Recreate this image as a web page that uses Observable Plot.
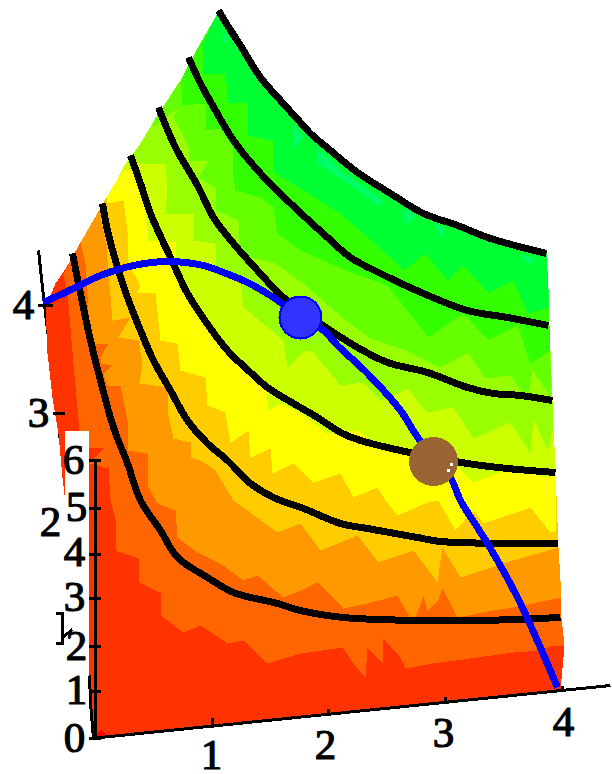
<!DOCTYPE html>
<html><head><meta charset="utf-8">
<style>html,body{margin:0;padding:0;background:#fff}svg{display:block}</style>
<script src="https://cdn.jsdelivr.net/npm/d3@7"></script>
<script src="https://cdn.jsdelivr.net/npm/@observablehq/plot@0.6"></script>
</head><body><div id="chart"></div>
<script>
const leftEdge = [[218,10],[213,20],[197,48],[180,80],[170,95],[155,118],[140,143],[125,163],[115,182],[106,197],[80,242],[70,260],[62,273],[55,283],[50,295],[45,305],[47,353],[52,397],[58,433],[62,477],[88,700],[93,738]];
const rightEdge = [[560,690],[564,645],[561,617],[558,547],[555,470],[552,400],[549,325],[546,252],[490,238],[457,225],[423,213],[390,193],[357,172],[330,150],[310,133],[300,122],[280,100],[260,77],[240,45],[227,25],[218,10]];
const b6600 = [[63,273],[67,293],[70,327],[73,363],[76,397],[79,430],[88,437],[88,447],[103,448],[88,463],[108,468],[110,500],[115,520],[115,550],[138,558],[138,582],[160,593],[160,615],[183,632],[200,625],[227,643],[243,640],[267,663],[300,653],[342,647],[353,663],[365,677],[367,648],[382,663],[382,637],[400,657],[405,668],[433,663],[513,652],[540,650],[552,645],[564,645]];
const b9900 = [[80,242],[85,263],[88,313],[93,343],[108,343],[100,357],[100,363],[112,365],[103,373],[107,385],[120,385],[127,420],[127,450],[147,453],[148,487],[157,503],[175,510],[177,537],[197,552],[220,563],[243,580],[257,575],[283,597],[300,590],[317,582],[343,608],[367,603],[397,595],[413,623],[423,595],[427,610],[438,600],[442,588],[457,617],[493,610],[513,607],[561,597]];
const bCC00 = [[100,217],[106,243],[108,273],[112,320],[130,317],[118,337],[138,340],[142,363],[139,383],[167,387],[167,410],[173,438],[190,442],[190,457],[200,460],[215,470],[233,500],[277,532],[300,523],[320,550],[357,535],[378,562],[413,550],[437,582],[442,547],[460,577],[513,560],[558,547]];
const bFF00 = [[107,203],[123,200],[127,230],[128,263],[140,285],[137,292],[155,293],[160,340],[177,343],[180,370],[205,377],[207,405],[225,412],[230,442],[248,430],[250,457],[270,448],[272,473],[293,463],[313,482],[340,473],[353,497],[377,487],[385,500],[397,515],[427,502],[438,500],[455,530],[473,510],[483,523],[530,507],[550,532],[556,530]];
const bCCFF = [[115,182],[123,170],[138,168],[142,178],[148,240],[175,242],[175,267],[180,280],[190,300],[215,330],[240,365],[266,390],[268,410],[280,403],[300,412],[327,433],[357,430],[377,447],[420,455],[457,467],[473,482],[500,472],[533,470],[543,477],[555,475]];
const b99FF = [[128,160],[143,163],[165,163],[167,190],[165,213],[193,213],[193,240],[215,243],[215,267],[240,280],[243,307],[283,340],[287,367],[305,350],[313,352],[340,385],[363,382],[380,400],[407,388],[427,412],[453,407],[473,438],[510,422],[530,453],[533,418],[547,450],[553,427]];
const b66FF = [[152,127],[177,108],[173,117],[188,145],[188,160],[208,160],[198,177],[215,187],[215,210],[238,220],[238,243],[250,257],[275,263],[303,283],[343,318],[368,337],[405,350],[440,367],[468,352],[485,378],[510,375],[527,400],[532,370],[551,397]];
const b33FF = [[180,80],[182,105],[205,103],[205,130],[220,128],[232,147],[232,170],[235,190],[260,197],[273,207],[277,233],[300,250],[345,270],[387,285],[428,337],[463,313],[488,340],[517,325],[530,363],[550,350]];
const b00FF = [[202,45],[202,73],[225,73],[228,102],[247,103],[248,135],[272,140],[273,172],[290,182],[340,213],[390,257],[403,270],[425,253],[447,280],[463,265],[488,293],[513,280],[527,313],[549,307]];
const bandFills = ["#ff6600","#ff9900","#ffcc00","#ffff00","#ccff00","#99ff00","#66ff00","#33ff00","#00ff33"];
const bandEdges = [b6600,b9900,bCC00,bFF00,bCCFF,b99FF,b66FF,b33FF,b00FF];
const sliverA = [[223,31],[230,40],[224,42]];
const sliverB = [[292,122],[303,137],[292,148]];
const sliverC = [[317,147],[340,170],[383,200],[378,205],[353,187],[317,163]];
const sliverD = [[402,207],[415,215],[405,225]];
const sliverE = [[432,222],[445,228],[442,236]];
const sliverF = [[518,253],[535,258],[530,265]];
const corner = [[93,738],[100,729],[109,737]];

const c1 = [[218,10],[227,25],[240,45],[260,77],[280,100],[300,122],[310,133],[330,150],[357,172],[390,193],[423,213],[457,225],[490,238],[546,253]];
const c2 = [[188,57],[200,83],[215,110],[233,140],[260,173],[290,203],[327,237],[350,257],[380,273],[423,293],[467,310],[507,317],[548,325]];
const c3 = [[158,107],[175,147],[197,185],[213,217],[233,243],[257,270],[283,297],[327,328],[357,347],[387,362],[427,372],[467,387],[493,393],[520,395],[552,400]];
const c4 = [[130,155],[140,183],[150,213],[170,257],[187,293],[203,318],[227,350],[250,372],[267,387],[293,403],[317,417],[340,432],[360,440],[400,450],[467,463],[507,468],[555,472]];
const c5 = [[102,203],[107,230],[115,260],[127,297],[140,330],[153,360],[170,390],[187,420],[207,443],[227,460],[250,483],[273,497],[303,508],[340,523],[367,528],[417,537],[440,541],[558,543]];
const c6 = [[72,253],[80,293],[90,340],[100,380],[113,427],[127,463],[140,500],[160,530],[177,557],[207,577],[233,592],[277,603],[300,610],[343,617],[417,620],[480,620],[560,617]];
const contours = [c1,c2,c3,c4,c5,c6];

const pathCurve = [[43,302],[73,288],[100,275],[133,265],[167,261],[203,265],[223,272],[247,282],[273,297],[300,317],[323,330],[337,345],[367,373],[400,410],[418,438],[450,477],[460,500],[487,543],[517,597],[557,687]];
const bluePoint = [300,317];
const brownPoint = [433,461];
const specks = [[451,464],[448,470]];

const xAxisLine = [[90,738],[610,685]];
const xTicks = [[212,727,212,717],[328,715,328,708],[445,703,445,696],[562,691,562,685]];
const zTopAxis = [[38,250],[42,287],[45,313],[50,353],[53,387],[57,410],[60,443]];
const zLowAxis = [[89,675],[90,702],[93,738]];
const yAxisLine = [[95,460],[95,738]];
const yTickYs = [460,508,554,598,646,691,738];
const backTicks = [[37,305,52,305],[52,413,64,413]];
const clipped1 = [[55,613],[62,613],[62,643],[55,643]];
const clipped2 = [[62,637],[72,629]];
const labelBox = [[64,430],[88,430],[88,710],[64,710]];
const xLabels = [["1",211,755],["2",325,745],["3",443,733],["4",563,722]];
const yLabels = [["0",74,738],["1",76,690],["2",76,646],["3",74,597],["4",74,552],["5",76,507],["6",73,460]];
const backLabels = [["4",23,305],["3",38,413],["2",50,522]];

const upper = (edge) => {
  const [sx,sy] = edge[0], [ex,ey] = edge[edge.length-1];
  return [...edge, ...rightEdge.filter(p=>p[1]<ey), ...leftEdge.filter(p=>p[1]<sy && p[1]>10)];
};
const crisp = {shapeRendering:"crispEdges"};
const poly = (pts,fill) => Plot.line(pts,{x:d=>d[0],y:d=>d[1],fill,stroke:"none",...crisp});
const stroke = (pts,w,color="#000",curve="linear") => Plot.line(pts,{x:d=>d[0],y:d=>d[1],stroke:color,strokeWidth:w,curve,strokeLinejoin:"round",strokeLinecap:"butt",...crisp});
const labels = (arr) => Plot.text(arr,{x:d=>d[1],y:d=>d[2],text:d=>d[0],fontFamily:"Liberation Serif",fontSize:43,fill:"#000",stroke:"#000",strokeWidth:1.2,textAnchor:"middle",lineAnchor:"middle"});

const chart = Plot.plot({
  width:612,height:774,margin:0,
  x:{domain:[0,612],range:[0,612],axis:null},
  y:{domain:[0,774],range:[0,774],axis:null},
  marks:[
    stroke(zTopAxis,3),
    poly([...leftEdge,...rightEdge],"#ff3300"),
    poly(corner,"#ff0000"),
    ...bandEdges.map((e,i)=>poly(upper(e),bandFills[i])),
    ...[sliverA,sliverB,sliverC,sliverD,sliverE,sliverF].map(s=>poly(s,"#00ff66")),
    ...contours.map(c=>stroke(c,7,"#000","catmull-rom")),
    stroke(pathCurve,7,"#0000ff","catmull-rom"),
    Plot.dot([bluePoint],{x:d=>d[0],y:d=>d[1],r:22,fill:"#0000ff",...crisp}),
    Plot.dot([bluePoint],{x:d=>d[0],y:d=>d[1],r:20,fill:"#3333ff",...crisp}),
    Plot.dot([brownPoint],{x:d=>d[0],y:d=>d[1],r:24.5,fill:"#996633",...crisp}),
    Plot.dot(specks,{x:d=>d[0],y:d=>d[1],r:1.7,fill:"#fff",...crisp}),
    poly(labelBox,"#fff"),
    stroke(xAxisLine,3),
    Plot.link(xTicks,{x1:d=>d[0],y1:d=>d[1],x2:d=>d[2],y2:d=>d[3],stroke:"#000",strokeWidth:3,...crisp}),
    stroke(zLowAxis,3),
    stroke(yAxisLine,3),
    Plot.link(yTickYs,{x1:()=>88,x2:()=>100,y1:d=>d,y2:d=>d,stroke:"#000",strokeWidth:3,...crisp}),
    Plot.link(backTicks,{x1:d=>d[0],y1:d=>d[1],x2:d=>d[2],y2:d=>d[3],stroke:"#000",strokeWidth:3,...crisp}),
    stroke(clipped1,3),stroke(clipped2,3),
    labels(xLabels),labels(yLabels),labels(backLabels)
  ]
});
document.getElementById("chart").appendChild(chart);
</script></body></html>
